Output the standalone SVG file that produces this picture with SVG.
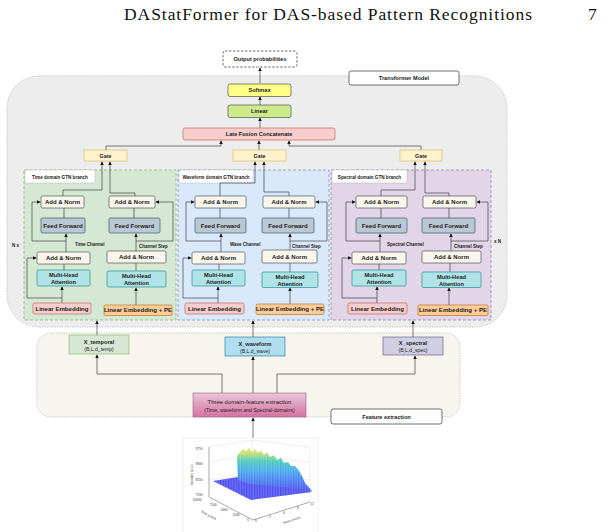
<svg xmlns="http://www.w3.org/2000/svg" width="609" height="532" viewBox="0 0 609 532">
<defs>
<marker id="ah" viewBox="0 0 6 6" refX="6" refY="3" markerWidth="3.6" markerHeight="3.6" markerUnits="userSpaceOnUse" orient="auto"><path d="M0,0 L6,3 L0,6 z" fill="#111"/></marker>
<linearGradient id="pinkg" x1="0" y1="0" x2="0" y2="1"><stop offset="0" stop-color="#e8c6d8"/><stop offset="1" stop-color="#d672a0"/></linearGradient>
<linearGradient id="ridge" x1="0" y1="0" x2="0" y2="1"><stop offset="0" stop-color="#f4e060"/><stop offset="0.12" stop-color="#c0e070"/><stop offset="0.3" stop-color="#46c8b8"/><stop offset="0.55" stop-color="#3fa4f0"/><stop offset="1" stop-color="#4a4cf0"/></linearGradient>
<pattern id="mesh" width="2.6" height="10" patternUnits="userSpaceOnUse"><line x1="1" y1="0" x2="1" y2="10" stroke="#ffffff" stroke-opacity="0.5" stroke-width="0.6"/></pattern>
</defs>
<style>
.t{font-family:"Liberation Sans",Arial,sans-serif;font-weight:bold;fill:#1a1a1a;text-anchor:middle}
.n{font-family:"Liberation Sans",Arial,sans-serif;fill:#1a1a1a;text-anchor:middle}
.s{font-family:"Liberation Sans",Arial,sans-serif;font-weight:bold;fill:#1a1a1a;font-size:4.5px}
.pl{font-family:"Liberation Serif","Times New Roman",serif;fill:#333;font-size:3.6px;text-anchor:middle}
.an{fill:#f9f7ed;stroke:#36393d;stroke-width:0.6}
.ff{fill:#bac8d3;stroke:#23445d;stroke-width:0.6}
.mh{fill:#b0e3e6;stroke:#0e8088;stroke-width:0.6}
.le{fill:#f8cecc;stroke:#b85450;stroke-width:0.6}
.pe{fill:#ffcc99;stroke:#b46504;stroke-width:0.6}
.gt{fill:#fff2cc;stroke:#d6b656;stroke-width:0.6}
.lb{fill:#ffffff;stroke:#999;stroke-width:0.5;stroke-dasharray:1.5 1}
.c{fill:none;stroke:#444;stroke-width:0.7}
.ca{fill:none;stroke:#444;stroke-width:0.7;marker-end:url(#ah)}
</style>

<!-- header -->
<text x="124" y="20" font-family="Liberation Serif,'Times New Roman',serif" font-size="17.5" textLength="408" fill="#111">DAStatFormer for DAS-based Pattern Recognitions</text>
<text x="588" y="20" font-family="Liberation Serif,'Times New Roman',serif" font-size="17.5" fill="#111">7</text>

<!-- containers -->
<g id="transformer-container">
<rect x="7" y="76" width="500" height="251" rx="32" fill="#ededed" stroke="#b0b0b0" stroke-width="0.6" stroke-dasharray="1.5 1"/>
</g>
<g id="feature-container">
<rect x="37" y="333" width="423" height="84" rx="14" fill="#f7f5ed" stroke="#b0b0b0" stroke-width="0.6" stroke-dasharray="1.5 1"/>
</g>
<g id="branch-time">
<rect x="24" y="170" width="152" height="150" fill="#d5e8d4" stroke="#82b366" stroke-width="0.7" stroke-dasharray="3 2"/>
<rect x="25" y="170" width="70" height="13" rx="2" class="lb"/>
<text x="60" y="178.6" class="t" font-size="4.6">Time domain GTN branch</text>
</g>
<g id="branch-wave">
<rect x="178" y="170" width="151" height="150" fill="#dae8fc" stroke="#6c8ebf" stroke-width="0.7" stroke-dasharray="3 2"/>
<rect x="179" y="170" width="74" height="13" rx="2" class="lb"/>
<text x="216" y="178.6" class="t" font-size="4.6">Waveform domain GTN branch</text>
</g>
<g id="branch-spec">
<rect x="331" y="170" width="160" height="150" fill="#e1d5e7" stroke="#9673a6" stroke-width="0.7" stroke-dasharray="3 2"/>
<rect x="332" y="170" width="75" height="13" rx="2" class="lb"/>
<text x="369.5" y="178.6" class="t" font-size="4.6">Spectral domain GTN branch</text>
</g>

<!-- connectors -->
<g id="connectors">
<path class="ca" d="M260,83 V67.5"/>
<path class="ca" d="M260,105 V96.5"/>
<path class="ca" d="M260,128 V117.5"/>
<path class="ca" d="M259,150 V140.5"/>
<path class="ca" d="M106,150 V146 H221 V140.5"/>
<path class="ca" d="M421,150 V146 H289 V140.5"/>
<!-- time branch -->
<path class="ca" d="M62,303 V286.5"/>
<path class="ca" d="M62,298 H27 V258 H36.5"/>
<path class="c" d="M64,270 V264"/>
<path class="ca" d="M66,252 V233.5"/>
<path class="ca" d="M66,241 H32 V202 H40.5"/>
<path class="c" d="M64,218 V208"/>
<path class="ca" d="M63,196 V190 H102 V161.5"/>
<path class="ca" d="M136,305 V287.5"/>
<path class="c" d="M136,271 V263"/>
<path class="ca" d="M136,251 V233.5"/>
<path class="ca" d="M136,241 H173 V202 H155.5"/>
<path class="c" d="M134,218 V208"/>
<path class="ca" d="M135,196 V193 H110 V161.5"/>
<!-- wave branch -->
<path class="ca" d="M218,303 V286.5"/>
<path class="ca" d="M218,298 H183 V258 H191.5"/>
<path class="c" d="M219,270 V264"/>
<path class="ca" d="M221,252 V233.5"/>
<path class="ca" d="M221,241 H186 V202 H194.5"/>
<path class="c" d="M220,218 V208"/>
<path class="ca" d="M220,196 V183 H255 V161.5"/>
<path class="ca" d="M290,304 V287.5"/>
<path class="c" d="M290,272 V263"/>
<path class="ca" d="M290,250 V233.5"/>
<path class="ca" d="M290,241 H327 V202 H315.5"/>
<path class="c" d="M289,218 V208"/>
<path class="ca" d="M289,196 V192 H264 V161.5"/>
<!-- spectral branch -->
<path class="ca" d="M377,303 V286.5"/>
<path class="ca" d="M377,298 H342 V258 H351.5"/>
<path class="c" d="M379,270 V264"/>
<path class="ca" d="M380,252 V233.5"/>
<path class="ca" d="M380,241 H346 V202 H355.5"/>
<path class="c" d="M381,218 V208"/>
<path class="ca" d="M381,196 V190 H415 V161.5"/>
<path class="ca" d="M449,305 V287.5"/>
<path class="c" d="M450,272 V263"/>
<path class="ca" d="M451,251 V233.5"/>
<path class="ca" d="M451,241 H488 V202 H476.5"/>
<path class="c" d="M449,218 V208"/>
<path class="ca" d="M449,196 V193 H425 V161.5"/>
<!-- feature extraction -->
<path class="ca" d="M97,335 V320.5"/>
<path class="ca" d="M253,337 V320.5"/>
<path class="ca" d="M413,337 V320.5"/>
<path class="ca" d="M222,393 V374 H97 V354.5"/>
<path class="ca" d="M253,393 V356.5"/>
<path class="ca" d="M277,393 V374 H415 V355.5"/>
<path class="ca" d="M253,438 V417.5"/>
</g>

<!-- top nodes -->
<g id="output-probabilities">
<rect x="223" y="51" width="74" height="16" rx="2" fill="#fff" stroke="#333" stroke-width="0.7" stroke-dasharray="2.5 1.5"/>
<text x="260" y="61" class="t" font-size="5.6">Output probabilities</text>
</g>
<g id="transformer-label">
<rect x="349" y="71" width="110" height="14" rx="2" fill="#fff" stroke="#333" stroke-width="0.7"/>
<text x="404" y="80" class="t" font-size="5.6">Transformer Model</text>
</g>
<g id="softmax">
<rect x="228" y="84" width="63" height="12.5" rx="2" fill="#ffff88" stroke="#36393d" stroke-width="0.6"/>
<text x="259.5" y="92.3" class="t" font-size="5.6">Softmax</text>
</g>
<g id="linear">
<rect x="228" y="105" width="63" height="12.5" rx="2" fill="#cdeb8b" stroke="#36393d" stroke-width="0.6"/>
<text x="259.5" y="113.3" class="t" font-size="5.6">Linear</text>
</g>
<g id="late-fusion">
<rect x="183" y="128" width="152" height="12" rx="2" fill="#f8cecc" stroke="#b85450" stroke-width="0.6"/>
<text x="259" y="136" class="t" font-size="5.6">Late Fusion Concatenate</text>
</g>
<g id="gate-time">
<rect x="84" y="150" width="43" height="11" class="gt"/>
<text x="105.5" y="157.7" class="t" font-size="5.3">Gate</text>
</g>
<g id="gate-wave">
<rect x="233" y="150" width="53" height="11" class="gt"/>
<text x="259.5" y="157.7" class="t" font-size="5.3">Gate</text>
</g>
<g id="gate-spec">
<rect x="400" y="150" width="42" height="11" class="gt"/>
<text x="421" y="157.7" class="t" font-size="5.3">Gate</text>
</g>

<!-- time branch nodes -->
<g id="time-an1"><rect x="41" y="196" width="43" height="12" rx="1.5" class="an"/><text x="62.5" y="204.1" class="t" font-size="6">Add &amp; Norm</text></g>
<g id="time-ff1"><rect x="41" y="218" width="44" height="15" rx="1.5" class="ff"/><text x="63" y="227.6" class="t" font-size="6">Feed Forward</text></g>
<g id="time-an2"><rect x="37" y="252" width="53" height="12" rx="1.5" class="an"/><text x="63.5" y="260.1" class="t" font-size="6">Add &amp; Norm</text></g>
<g id="time-mha1"><rect x="37" y="270" width="53" height="16" rx="1.5" class="mh"/><text x="63.5" y="277" class="t" font-size="5.7">Multi-Head</text><text x="63.5" y="283.6" class="t" font-size="5.7">Attention</text></g>
<g id="time-le"><rect x="33" y="303" width="58" height="11" rx="1.5" class="le"/><text x="62" y="310.6" class="t" font-size="6.1">Linear Embedding</text></g>
<g id="time-an3"><rect x="109" y="196" width="46" height="12" rx="1.5" class="an"/><text x="132" y="204.1" class="t" font-size="6">Add &amp; Norm</text></g>
<g id="time-ff2"><rect x="109" y="218" width="51" height="15" rx="1.5" class="ff"/><text x="134.5" y="227.6" class="t" font-size="6">Feed Forward</text></g>
<g id="time-an4"><rect x="107" y="251" width="59" height="12" rx="1.5" class="an"/><text x="136.5" y="259.1" class="t" font-size="6">Add &amp; Norm</text></g>
<g id="time-mha2"><rect x="107" y="271" width="59" height="16" rx="1.5" class="mh"/><text x="136.5" y="278" class="t" font-size="5.7">Multi-Head</text><text x="136.5" y="284.6" class="t" font-size="5.7">Attention</text></g>
<g id="time-lepe"><rect x="104" y="305" width="68" height="10.5" rx="1.5" class="pe"/><text x="138" y="312.4" class="t" font-size="6.1">Linear Embedding + PE</text></g>
<text x="75" y="246" class="s">Time Channel</text>
<text x="139" y="248" class="s">Channel Step</text>
<text x="12" y="247" class="s" font-size="5">N x</text>

<!-- wave branch nodes -->
<g id="wave-an1"><rect x="195" y="196" width="51" height="12" rx="1.5" class="an"/><text x="220.5" y="204.1" class="t" font-size="6">Add &amp; Norm</text></g>
<g id="wave-ff1"><rect x="195" y="218" width="51" height="15" rx="1.5" class="ff"/><text x="220.5" y="227.6" class="t" font-size="6">Feed Forward</text></g>
<g id="wave-an2"><rect x="192" y="252" width="53" height="12" rx="1.5" class="an"/><text x="218.5" y="260.1" class="t" font-size="6">Add &amp; Norm</text></g>
<g id="wave-mha1"><rect x="192" y="270" width="53" height="16" rx="1.5" class="mh"/><text x="218.5" y="277" class="t" font-size="5.7">Multi-Head</text><text x="218.5" y="283.6" class="t" font-size="5.7">Attention</text></g>
<g id="wave-le"><rect x="185" y="303" width="59" height="11" rx="1.5" class="le"/><text x="214.5" y="310.6" class="t" font-size="6.1">Linear Embedding</text></g>
<g id="wave-an3"><rect x="263" y="196" width="52" height="12" rx="1.5" class="an"/><text x="289" y="204.1" class="t" font-size="6">Add &amp; Norm</text></g>
<g id="wave-ff2"><rect x="262" y="218" width="52" height="15" rx="1.5" class="ff"/><text x="288" y="227.6" class="t" font-size="6">Feed Forward</text></g>
<g id="wave-an4"><rect x="262" y="250" width="55" height="13" rx="1.5" class="an"/><text x="289.5" y="258.6" class="t" font-size="6">Add &amp; Norm</text></g>
<g id="wave-mha2"><rect x="262" y="272" width="56" height="15.5" rx="1.5" class="mh"/><text x="290" y="279" class="t" font-size="5.7">Multi-Head</text><text x="290" y="285.6" class="t" font-size="5.7">Attention</text></g>
<g id="wave-lepe"><rect x="256" y="304" width="68" height="10.5" rx="1.5" class="pe"/><text x="290" y="311.4" class="t" font-size="6.1">Linear Embedding + PE</text></g>
<text x="230" y="246" class="s">Wave Channel</text>
<text x="292" y="248" class="s">Channel Step</text>

<!-- spectral branch nodes -->
<g id="spec-an1"><rect x="356" y="196" width="51" height="12" rx="1.5" class="an"/><text x="381.5" y="204.1" class="t" font-size="6">Add &amp; Norm</text></g>
<g id="spec-ff1"><rect x="356" y="218" width="51" height="15" rx="1.5" class="ff"/><text x="381.5" y="227.6" class="t" font-size="6">Feed Forward</text></g>
<g id="spec-an2"><rect x="352" y="252" width="54" height="12" rx="1.5" class="an"/><text x="379" y="260.1" class="t" font-size="6">Add &amp; Norm</text></g>
<g id="spec-mha1"><rect x="352" y="270" width="54" height="16" rx="1.5" class="mh"/><text x="379" y="277" class="t" font-size="5.7">Multi-Head</text><text x="379" y="283.6" class="t" font-size="5.7">Attention</text></g>
<g id="spec-le"><rect x="348" y="303" width="59" height="11" rx="1.5" class="le"/><text x="377.5" y="310.6" class="t" font-size="6.1">Linear Embedding</text></g>
<g id="spec-an3"><rect x="423" y="196" width="53" height="12" rx="1.5" class="an"/><text x="449.5" y="204.1" class="t" font-size="6">Add &amp; Norm</text></g>
<g id="spec-ff2"><rect x="422" y="218" width="53" height="15" rx="1.5" class="ff"/><text x="448.5" y="227.6" class="t" font-size="6">Feed Forward</text></g>
<g id="spec-an4"><rect x="422" y="251" width="59" height="12" rx="1.5" class="an"/><text x="451.5" y="259.1" class="t" font-size="6">Add &amp; Norm</text></g>
<g id="spec-mha2"><rect x="422" y="272" width="59" height="15.5" rx="1.5" class="mh"/><text x="451.5" y="279" class="t" font-size="5.7">Multi-Head</text><text x="451.5" y="285.6" class="t" font-size="5.7">Attention</text></g>
<g id="spec-lepe"><rect x="418" y="305" width="70" height="10.5" rx="1.5" class="pe"/><text x="453" y="312.4" class="t" font-size="6.1">Linear Embedding + PE</text></g>
<text x="387" y="246" class="s">Spectral Channel</text>
<text x="454" y="248" class="s">Channel Step</text>
<text x="494" y="243" class="s" font-size="5">x N</text>

<!-- feature extraction nodes -->
<g id="x-temporal"><rect x="69" y="335" width="60" height="19" fill="#d5e8d4" stroke="#82b366" stroke-width="0.6"/><text x="99" y="343.5" class="t" font-size="5.6">X_temporal</text><text x="99" y="350.5" class="n" font-size="5.1">(B,L,d_temp)</text></g>
<g id="x-waveform"><rect x="225" y="337" width="60" height="19" fill="#b1ddf0" stroke="#10739e" stroke-width="0.6"/><text x="255" y="345.5" class="t" font-size="5.6">X_waveform</text><text x="255" y="352.5" class="n" font-size="5.1">(B,L,d_wave)</text></g>
<g id="x-spectral"><rect x="383" y="337" width="60" height="18" fill="#d0cee2" stroke="#56517e" stroke-width="0.6"/><text x="413" y="345" class="t" font-size="5.6">X_spectral</text><text x="413" y="352" class="n" font-size="5.1">(B,L,d_spec)</text></g>
<g id="three-domain"><rect x="193" y="393" width="113" height="24" fill="url(#pinkg)" stroke="#996185" stroke-width="0.6"/><text x="249.5" y="403.5" class="n" font-size="5.9">Three domain-feature extraction</text><text x="249.5" y="411.5" class="n" font-size="5.1">(Time, waveform and Spectral-domains)</text></g>
<g id="feature-label"><rect x="331" y="409" width="111" height="15" rx="2" fill="#fff" stroke="#333" stroke-width="0.7"/><text x="386.5" y="418.5" class="t" font-size="5.6">Feature extraction</text></g>

<!-- input plot -->
<g id="input-plot">
<rect x="183" y="438" width="135" height="96" fill="#fff" stroke="#ddd" stroke-width="0.5"/>
<g stroke="#d6d6d6" stroke-width="0.4" fill="none">
<path d="M209,447 L252,440 L310,447"/>
<path d="M209,462 L252,455 L310,462"/>
<path d="M209,480 L252,473 L310,480"/>
<path d="M252,440 V490"/>
<path d="M310,447 V502"/>
</g>
<path d="M209,447 V497 L253,520 L310,502" fill="none" stroke="#555" stroke-width="0.5"/>
<polygon points="213,481 238,477 300,485 312,492 251,500" fill="#4a4cf0"/>
<polygon points="213,481 238,477 300,485 312,492 251,500" fill="url(#mesh)"/>
<polygon points="238,480 237,456 240,452 243,449 246,451 249,448 252,452 255,449 258,453 261,450 264,455 267,452 270,457 274,455 277,460 281,458 284,463 288,462 291,466 295,466 299,471 302,476 305,483 312,491 290,488 270,486 250,484" fill="url(#ridge)"/>
<polygon points="238,480 237,456 240,452 243,449 246,451 249,448 252,452 255,449 258,453 261,450 264,455 267,452 270,457 274,455 277,460 281,458 284,463 288,462 291,466 295,466 299,471 302,476 305,483 312,491 290,488 270,486 250,484" fill="url(#mesh)"/>
<text x="199" y="450" class="pl">9750</text>
<text x="199" y="465" class="pl">9000</text>
<text x="199" y="481" class="pl">8250</text>
<text x="199" y="496" class="pl">7500</text>
<text x="197" y="501" class="pl">10000</text>
<text x="213" y="506" class="pl">7500</text>
<text x="224" y="511" class="pl">5000</text>
<text x="236" y="516" class="pl">2500</text>
<text x="248" y="521" class="pl">0</text>
<text x="256" y="522" class="pl">0</text>
<text x="270" y="518" class="pl">3</text>
<text x="284" y="514" class="pl">6</text>
<text x="298" y="509" class="pl">9</text>
<text x="312" y="505" class="pl">12</text>
<text x="0" y="0" class="pl" transform="translate(193,475) rotate(-90)">Intensity (a.u.)</text>
<text x="0" y="0" class="pl" font-size="4" transform="translate(208,516) rotate(28)">Time points</text>
<text x="0" y="0" class="pl" font-size="4" transform="translate(292,521) rotate(-18)">Space points</text>
</g>
</svg>
